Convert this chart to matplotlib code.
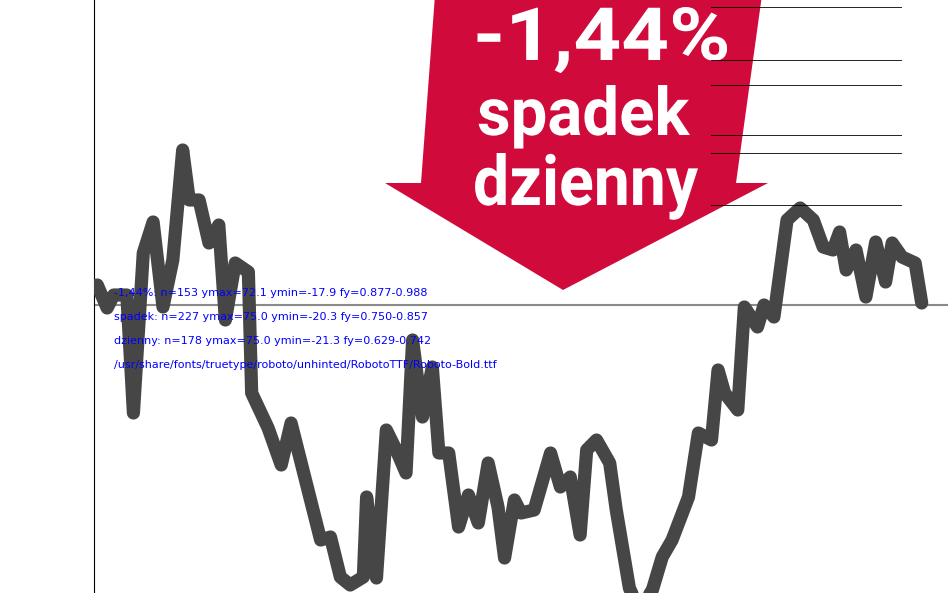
import matplotlib
matplotlib.use("Agg")
import numpy as np
from matplotlib import pyplot as plt
from matplotlib.patches import Polygon, PathPatch, Rectangle
from matplotlib.path import Path
from matplotlib.textpath import TextPath
from matplotlib.font_manager import FontProperties, findfont

# trading day index and closing price
days = [1, 4, 6, 10, 12, 15, 18, 21, 24, 27, 29, 32, 35, 38, 40, 43, 47, 48, 53, 57, 60,
        69, 72, 75, 78, 82, 83, 86, 89, 92, 95, 97, 100, 103, 105, 108, 111, 114, 117, 120,
        123, 125, 128, 130, 134, 139, 142, 145, 148, 150, 153, 157, 159, 163, 166, 170, 173,
        176, 181, 184, 188, 190, 192, 196, 198, 202, 204, 207, 211, 215, 219, 222, 225, 227,
        229, 232, 235, 238, 241, 243, 246, 250, 252]
prices = [35.20, 34.97, 35.10, 35.10, 33.92, 35.52, 35.83, 34.98, 35.45, 36.55, 36.05, 36.05,
          35.62, 35.80, 34.85, 35.42, 35.33, 34.12, 33.77, 33.40, 33.82,
          32.65, 32.68, 32.28, 32.20, 32.28, 33.08, 32.27, 33.75, 33.55, 33.32, 34.65, 33.88,
          34.38, 33.52, 33.52, 32.78, 33.10, 32.82, 33.42, 32.98, 32.47, 33.05, 32.92, 32.95,
          33.52, 33.18, 33.28, 32.70, 33.55, 33.65, 33.42, 32.95, 32.17, 31.95, 32.15, 32.48,
          32.65, 33.08, 33.72, 33.65, 34.35, 34.12, 33.95, 34.98, 34.78, 35.00, 34.88, 35.85,
          35.97, 35.85, 35.58, 35.55, 35.73, 35.35, 35.55, 35.08, 35.63, 35.23, 35.62, 35.48,
          35.42, 35.02]

ref_level = 35
ref_label = "35"
badge_lines = ["-1,44%", "spadek", "dzienny"]

W, H = 948, 593
fig = plt.figure(figsize=(W / 100, H / 100), dpi=100)
fig.patch.set_facecolor("white")

fp = FontProperties(family="Roboto", weight="bold")
info = []


def word_path(txt, left, right, base, top):
    tp = TextPath((0, 0), txt, size=100, prop=fp)
    verts = np.array(tp.vertices, dtype=float)
    x0, x1 = verts[:, 0].min(), verts[:, 0].max()
    sx = (right - left) / (x1 - x0)
    sy = (base - top) / verts[:, 1].max()
    fx = (left + (verts[:, 0] - x0) * sx) / W
    fy = 1 - (base - verts[:, 1] * sy) / H
    info.append(f"{txt}: n={len(verts)} ymax={verts[:, 1].max():.1f} ymin={verts[:, 1].min():.1f} "
                f"fy={fy.min():.3f}-{fy.max():.3f}")
    return Path(np.column_stack([fx, fy]), tp.codes)


badge_paths = [word_path(badge_lines[0], 473, 727, 60, 7),
               word_path(badge_lines[1], 477, 690, 135, 85),
               word_path(badge_lines[2], 473, 698, 205, 153)]

ax = fig.add_axes([94 / W, 0, 1 - 94 / W, 1])
ax.set_xlim(0, 260)
ax.set_ylim(32.12, 38.05)
ax.axhline(ref_level, color="#8a8a8a", lw=1.5, zorder=1)
ax.plot(days, prices, color="#464646", lw=9.5, solid_joinstyle="round",
        solid_capstyle="round", zorder=3)
for s in ["top", "right", "bottom"]:
    ax.spines[s].set_visible(False)
ax.set_xticks([])
ax.set_yticks([])


def px(x, y):
    return (x / W, 1 - y / H)


arrow_px = [(435, -5), (421, 183), (385, 183), (563, 290), (768, 183), (736, 183), (762, -5)]
fig.patches.append(Polygon([px(*p) for p in arrow_px], closed=True, transform=fig.transFigure,
                           facecolor="#d10a3c", edgecolor="none", zorder=5))
for p in badge_paths:
    fig.patches.append(PathPatch(p, transform=fig.transFigure, facecolor="white",
                                 edgecolor="none", zorder=6))
for yy in (7, 60, 85, 135, 153, 205):
    fig.add_artist(plt.Line2D([0.75, 0.95], [1 - yy / H] * 2, color="black", lw=0.6, zorder=10))
info.append(findfont(fp))
for i, t in enumerate(info):
    fig.text(0.12, 0.5 - i * 0.04, t, fontsize=8, color="blue")

fig.savefig("out.png", dpi=100)
